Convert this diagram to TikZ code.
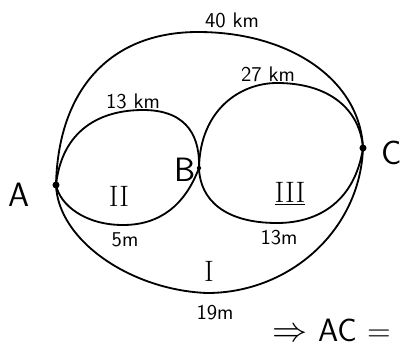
\documentclass[tikz,border=0pt]{standalone}
\usepackage{tikz}
\usetikzlibrary{positioning}

\begin{document}
\begin{tikzpicture}[
  x=0.025cm, y=-0.025cm,
  curve/.style={line width=1.3pt, line join=round},
  spot/.style={circle, fill, inner sep=0pt, minimum size=5pt},
  dist/.style={font=\sffamily\fontsize{15}{17}\selectfont, inner sep=1pt},
  place/.style={font=\sffamily\fontsize{24}{26}\selectfont, inner sep=1pt},
  region/.style={font=\rmfamily\fontsize{21}{23}\selectfont, inner sep=1pt},
]
  \useasboundingbox (0,0) rectangle (406,363);

  \coordinate (A) at (56,185);
  \coordinate (B) at (199,168);
  \coordinate (C) at (363,148);
  \coordinate (outtop) at (198,32);
  \coordinate (outbot) at (207,293);
  \coordinate (lefttop) at (143,110);
  \coordinate (leftbot) at (123,225);
  \coordinate (righttop) at (277,83);
  \coordinate (rightbot) at (277,223);

  % outer route (I)
  \draw[curve] (A) .. controls (58,92) and (108,32) .. (outtop)
    .. controls (290,32) and (360,80) .. (C)
    .. controls (360,230) and (290,293) .. (outbot)
    .. controls (130,290) and (58,240) .. (A);
  % left loop (II)
  \draw[curve] (A) .. controls (62,130) and (100,110) .. (lefttop)
    .. controls (190,110) and (200,140) .. (B)
    .. controls (185,205) and (160,225) .. (leftbot)
    .. controls (85,225) and (60,205) .. (A);
  % right loop (III)
  \draw[curve] (B) .. controls (200,110) and (240,83) .. (righttop)
    .. controls (330,83) and (360,110) .. (C)
    .. controls (355,200) and (320,223) .. (rightbot)
    .. controls (225,223) and (200,200) .. (B);

  \node[spot] (dotA) at (A) {};
  \node[spot] (dotC) at (C) {};
  \node[spot, minimum size=3pt] (dotB) at (B) {};

  \node[place] (labA) at (19,195) {A};
  \node[place] (labB) at (185,170) {B};
  \node[place] (labC) at (392,153) {C};

  \node[dist] (d40) at (232,20) {40 km};
  \node[dist] (d13) at (133,101) {13 km};
  \node[dist] (d27) at (268,74) {27 km};
  \node[dist] (d5) at (125,240) {5m};
  \node[dist] (d13m) at (279,238) {13m};
  \node[dist] (d19) at (215,313) {19m};

  \node[region] (r2) at (119,196) {II};
  \node[region] (r3) at (290,194) {\underline{III}};
  \node[region] (r1) at (209,271) {I};

  \node[font=\sffamily\fontsize{23}{25}\selectfont, anchor=west] (res) at (268,330) {$\Rightarrow$ AC =};
\end{tikzpicture}
\end{document}
